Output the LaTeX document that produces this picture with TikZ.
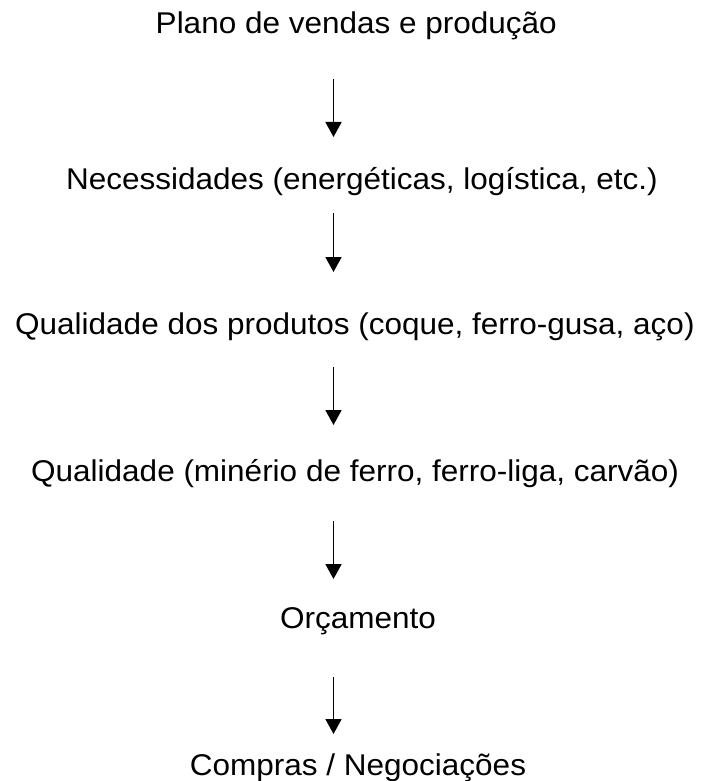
\documentclass[tikz,border=0pt]{standalone}
\usepackage{fontspec}
\setmainfont[FakeStretch=1.05]{Liberation Sans}
\usetikzlibrary{arrows.meta,calc}
\begin{document}
\begin{tikzpicture}[x=1pt,y=1pt,
  lbl/.style={inner sep=0pt,font=\fontsize{30}{35}\selectfont},
  arr/.style={line width=1.8pt,-{Triangle[width=16pt,length=15pt]}}]
\useasboundingbox (0,0) rectangle (707,-781);
\coordinate (ax) at (333.5,0);
\node[lbl,anchor=base east] (a) at (557,-34) {Plano de vendas e produção};
\node[lbl,anchor=base east] (b) at (658,-189) {Necessidades (energéticas, logística, etc.)};
\node[lbl,anchor=base west] (c) at (15,-334) {Qualidade dos produtos (coque, ferro-gusa, aço)};
\node[lbl,anchor=base west] (d) at (31,-481) {Qualidade (minério de ferro, ferro-liga, carvão)};
\node[lbl,anchor=base west] (e) at (280,-628) {Orçamento};
\node[lbl,anchor=base] (f) at (358,-775) {Compras / Negociações};
\draw[arr] ($(a.base -| ax)+(0,-45)$) -- ($(b.base -| ax)+(0,52)$);
\draw[arr] ($(b.base -| ax)+(0,-24)$) -- ($(c.base -| ax)+(0,62)$);
\draw[arr] ($(c.base -| ax)+(0,-33)$) -- ($(d.base -| ax)+(0,56)$);
\draw[arr] ($(d.base -| ax)+(0,-40)$) -- ($(e.base -| ax)+(0,49)$);
\draw[arr] ($(e.base -| ax)+(0,-49)$) -- ($(f.base -| ax)+(0,41)$);
\end{tikzpicture}
\end{document}
